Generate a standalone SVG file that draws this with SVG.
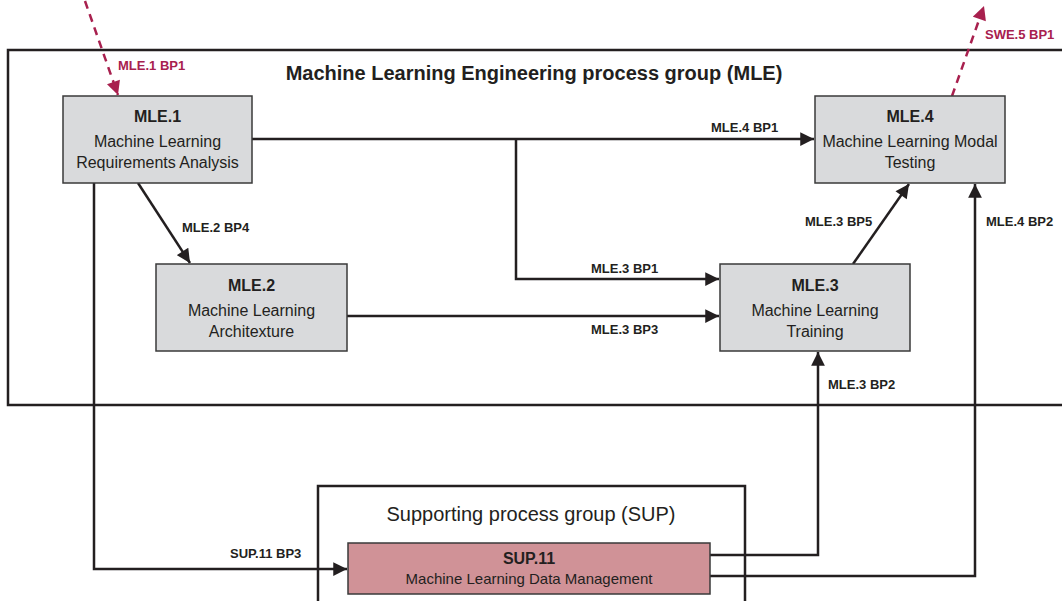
<svg xmlns="http://www.w3.org/2000/svg" width="1062" height="601" viewBox="0 0 1062 601">
  <style>
    text { font-family: "Liberation Sans", Arial, sans-serif; fill: #231f20; }
    .group { fill: none; stroke: #231f20; stroke-width: 2.5; }
    .node rect { fill: #d9dadc; stroke: #3a3a3a; stroke-width: 1.5; }
    .node.sup rect { fill: #d09297; }
    .id { font-size: 16px; font-weight: bold; text-anchor: middle; }
    .name { font-size: 16px; text-anchor: middle; }
    .lbl { font-size: 13px; font-weight: bold; }
    .ext { fill: #a8204e; }
    .wire { fill: none; stroke: #231f20; stroke-width: 2.5; }
    .dash { fill: none; stroke: #a8204e; stroke-width: 2.5; stroke-dasharray: 8 6; }
  </style>
  <defs>
    <marker id="arr" viewBox="0 0 10 10" refX="10" refY="5" markerWidth="6" markerHeight="5.5" orient="auto" markerUnits="strokeWidth">
      <path d="M0,0 L10,5 L0,10 z" fill="#231f20"/>
    </marker>
    <marker id="arrExt" viewBox="0 0 10 10" refX="10" refY="5" markerWidth="6" markerHeight="5.5" orient="auto" markerUnits="strokeWidth">
      <path d="M0,0 L10,5 L0,10 z" fill="#a8204e"/>
    </marker>
  </defs>

  <rect width="1062" height="601" fill="#ffffff"/>

  <!-- process group frames -->
  <g id="group-mle">
    <path class="group" d="M1064,50 H8 V405 H1064"/>
    <text x="534" y="80" font-size="20" font-weight="bold" text-anchor="middle">Machine Learning Engineering process group (MLE)</text>
  </g>
  <g id="group-sup">
    <path class="group" d="M318,603 V486 H745 V603" stroke-width="2"/>
    <text x="531" y="521" font-size="20" text-anchor="middle">Supporting process group (SUP)</text>
  </g>

  <!-- connectors -->
  <g id="connectors">
    <path class="dash" d="M85,1 L118,95" marker-end="url(#arrExt)"/>
    <path class="dash" d="M952,96 L984,6" marker-end="url(#arrExt)"/>
    <path class="wire" d="M252,139 H814" marker-end="url(#arr)"/>
    <path class="wire" d="M516,139 V279 H719" marker-end="url(#arr)"/>
    <path class="wire" d="M347,316 H719" marker-end="url(#arr)"/>
    <path class="wire" d="M138,183 L190,263" marker-end="url(#arr)"/>
    <path class="wire" d="M853,264 L909,184" marker-end="url(#arr)"/>
    <path class="wire" d="M94,183 V569 H347" marker-end="url(#arr)"/>
    <path class="wire" d="M710,555 H818 V352" marker-end="url(#arr)"/>
    <path class="wire" d="M710,576 H975 V184" marker-end="url(#arr)"/>

    <text class="lbl ext" x="118" y="70">MLE.1 BP1</text>
    <text class="lbl ext" x="985" y="39">SWE.5 BP1</text>
    <text class="lbl" x="711" y="132">MLE.4 BP1</text>
    <text class="lbl" x="591" y="273">MLE.3 BP1</text>
    <text class="lbl" x="591" y="334">MLE.3 BP3</text>
    <text class="lbl" x="182" y="232">MLE.2 BP4</text>
    <text class="lbl" x="805" y="226">MLE.3 BP5</text>
    <text class="lbl" x="986" y="226">MLE.4 BP2</text>
    <text class="lbl" x="828" y="389">MLE.3 BP2</text>
    <text class="lbl" x="230" y="558">SUP.11 BP3</text>
  </g>

  <!-- process nodes -->
  <g id="mle1" class="node">
    <rect x="63" y="96" width="189" height="87"/>
    <text class="id" x="157.5" y="122">MLE.1</text>
    <text class="name" x="157.5" y="147">Machine Learning</text>
    <text class="name" x="157.5" y="168">Requirements Analysis</text>
  </g>
  <g id="mle2" class="node">
    <rect x="156" y="264" width="191" height="87"/>
    <text class="id" x="251.5" y="291">MLE.2</text>
    <text class="name" x="251.5" y="316">Machine Learning</text>
    <text class="name" x="251.5" y="337">Architexture</text>
  </g>
  <g id="mle3" class="node">
    <rect x="720" y="264" width="190" height="87"/>
    <text class="id" x="815" y="291">MLE.3</text>
    <text class="name" x="815" y="316">Machine Learning</text>
    <text class="name" x="815" y="337">Training</text>
  </g>
  <g id="mle4" class="node">
    <rect x="815" y="96" width="190" height="87"/>
    <text class="id" x="910" y="122">MLE.4</text>
    <text class="name" x="910" y="147">Machine Learning Modal</text>
    <text class="name" x="910" y="168">Testing</text>
  </g>
  <g id="sup11" class="node sup">
    <rect x="348" y="543" width="362" height="51"/>
    <text class="id" x="529" y="564" font-size="15">SUP.11</text>
    <text class="name" x="529" y="584" style="font-size:15px">Machine Learning Data Management</text>
  </g>
</svg>
